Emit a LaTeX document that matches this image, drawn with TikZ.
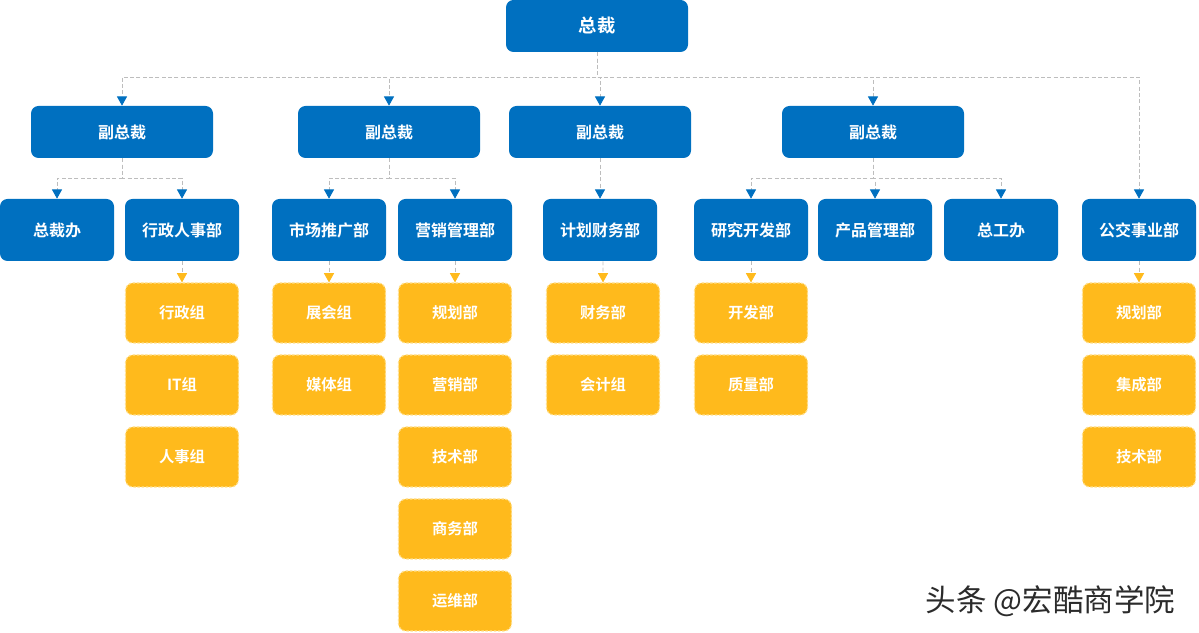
\documentclass[tikz,border=0pt]{standalone}
\usepackage{fontspec}
\setmainfont{Noto Sans CJK SC}[BoldFont={Noto Sans CJK SC Bold}]
\usetikzlibrary{arrows.meta}
\definecolor{bblue}{HTML}{0070C0}
\definecolor{byel}{HTML}{FFBA1C}
\definecolor{byelb}{HTML}{FFE08C}
\definecolor{lgray}{HTML}{BDBDBD}
\definecolor{wmark}{HTML}{2B2B2B}
\begin{document}
\begin{tikzpicture}[x=0.6pt,y=-0.6pt,
  bluebox/.style={draw=none,fill=bblue,rounded corners=4.5pt,text=white,font=\bfseries\fontsize{9.6pt}{11pt}\selectfont,minimum height={62*0.6pt},minimum width={114*0.6pt},inner sep=0pt},
  vpbox/.style={bluebox,minimum height={52*0.6pt},minimum width={182*0.6pt}},
  yelbox/.style={draw=byelb,dashed,dash pattern=on 1.5pt off 1pt,line width=0.7pt,fill=byel,rounded corners=4.5pt,text=white,font=\bfseries\fontsize{9.2pt}{11pt}\selectfont,minimum height={60*0.6pt},minimum width={113*0.6pt},inner sep=0pt},
  conn/.style={draw=lgray,line width=0.5pt,dash pattern=on 2.4pt off 1.4pt},
  barr/.style={conn,-{Triangle[width=6pt,length=5.5pt,color=bblue]}},
  yarr/.style={conn,-{Triangle[width=6pt,length=5.5pt,color=byel]}}
]
\useasboundingbox (0,0) rectangle (1199,633);
% top
\node[vpbox,font=\bfseries\fontsize{11pt}{12pt}\selectfont] (ceo) at (597,26) {总裁};
% VPs
\node[vpbox] (vp1) at (122,132) {副总裁};
\node[vpbox] (vp2) at (389,132) {副总裁};
\node[vpbox] (vp3) at (600,132) {副总裁};
\node[vpbox] (vp4) at (873,132) {副总裁};
% level 2
\node[bluebox] (zcb) at (57,230) {总裁办};
\node[bluebox] (xz) at (182,230) {行政人事部};
\node[bluebox] (sc) at (329,230) {市场推广部};
\node[bluebox] (yx) at (455,230) {营销管理部};
\node[bluebox] (jh) at (600,230) {计划财务部};
\node[bluebox] (yf) at (751,230) {研究开发部};
\node[bluebox] (cp) at (875,230) {产品管理部};
\node[bluebox] (zgb) at (1001,230) {总工办};
\node[bluebox] (gj) at (1139,230) {公交事业部};
% yellow
\node[yelbox] (xz1) at (182,313) {行政组};
\node[yelbox] (xz2) at (182,385) {IT组};
\node[yelbox] (xz3) at (182,457) {人事组};
\node[yelbox] (sc1) at (329,313) {展会组};
\node[yelbox] (sc2) at (329,385) {媒体组};
\node[yelbox] (yx1) at (455,313) {规划部};
\node[yelbox] (yx2) at (455,385) {营销部};
\node[yelbox] (yx3) at (455,457) {技术部};
\node[yelbox] (yx4) at (455,529) {商务部};
\node[yelbox] (yx5) at (455,601) {运维部};
\node[yelbox] (jh1) at (603,313) {财务部};
\node[yelbox] (jh2) at (603,385) {会计组};
\node[yelbox] (yf1) at (751,313) {开发部};
\node[yelbox] (yf2) at (751,385) {质量部};
\node[yelbox] (gj1) at (1139,313) {规划部};
\node[yelbox] (gj2) at (1139,385) {集成部};
\node[yelbox] (gj3) at (1139,457) {技术部};
% buses
\coordinate (b0) at (597,77);
\coordinate (b1) at (122,178);
\coordinate (b2) at (389,178);
\coordinate (b4) at (873,178);
% connectors level 1
\foreach \t in {vp1,vp2,vp3,vp4,gj}
  \draw[barr] (ceo.south) -- (b0) -| (\t.north);
% level 2
\foreach \t in {zcb,xz} \draw[barr] (vp1.south) -- (b1) -| (\t.north);
\foreach \t in {sc,yx} \draw[barr] (vp2.south) -- (b2) -| (\t.north);
\draw[barr] (vp3.south) -- (jh.north);
\foreach \t in {yf,cp,zgb} \draw[barr] (vp4.south) -- (b4) -| (\t.north);
% yellow arrows
\draw[yarr] (xz.south) -- (xz1.north);
\draw[yarr] (sc.south) -- (sc1.north);
\draw[yarr] (yx.south) -- (yx1.north);
\draw[yarr] ([xshift=1.8pt]jh.south) -- (jh1.north);
\draw[yarr] (yf.south) -- (yf1.north);
\draw[yarr] (gj.south) -- (gj1.north);
% watermark
\node[text=white,font=\fontsize{18.3pt}{20pt}\selectfont,anchor=east] at (1182.5,602.5) {头条 @宏酷商学院};
\node[text=wmark,font=\fontsize{18.3pt}{20pt}\selectfont,anchor=east] (wm) at (1181,601) {头条 @宏酷商学院};
\end{tikzpicture}
\end{document}
